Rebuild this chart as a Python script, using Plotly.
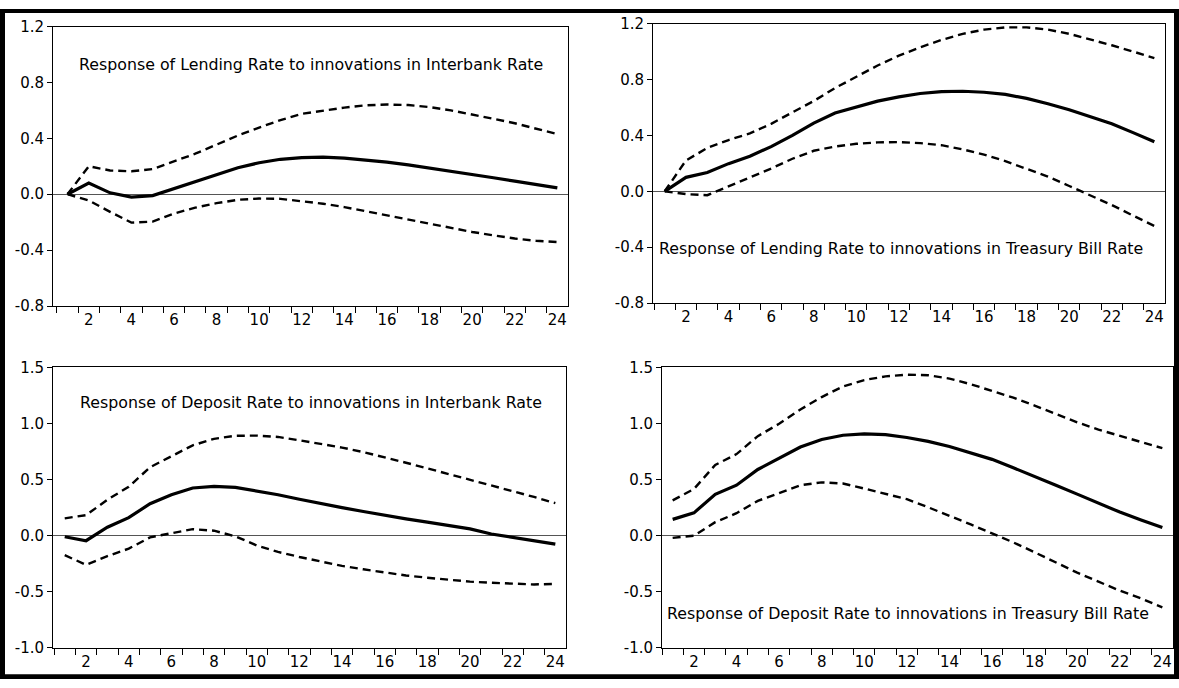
import plotly.graph_objects as go

# ---------------- data ----------------
horizon = list(range(1, 25))
x_tick_vals = [2, 4, 6, 8, 10, 12, 14, 16, 18, 20, 22, 24]
x_tick_text = ["2", "4", "6", "8", "10", "12", "14", "16", "18", "20", "22", "24"]

top_y_vals = [1.2, 0.8, 0.4, 0.0, -0.4, -0.8]
top_y_text = ["1.2", "0.8", "0.4", "0.0", "-0.4", "-0.8"]
bot_y_vals = [1.5, 1.0, 0.5, 0.0, -0.5, -1.0]
bot_y_text = ["1.5", "1.0", "0.5", "0.0", "-0.5", "-1.0"]

titles = [
    "Response of Lending Rate to innovations in Interbank Rate",
    "Response of Lending Rate to innovations in Treasury Bill Rate",
    "Response of Deposit Rate to innovations in Interbank Rate",
    "Response of Deposit Rate to innovations in Treasury Bill Rate",
]

lend_ib_resp = [0.0, 0.08, 0.01, -0.02, -0.01, 0.04, 0.094, 0.146, 0.19, 0.225, 0.25, 0.262,
                0.265, 0.258, 0.246, 0.23, 0.21, 0.188, 0.165, 0.142, 0.118, 0.094, 0.07, 0.045]
lend_ib_upper = [0.0, 0.20, 0.17, 0.164, 0.18, 0.234, 0.29, 0.355, 0.42, 0.477, 0.53, 0.575,
                 0.60, 0.62, 0.636, 0.642, 0.638, 0.624, 0.60, 0.572, 0.54, 0.508, 0.47, 0.43]
lend_ib_lower = [0.0, -0.045, -0.126, -0.203, -0.196, -0.138, -0.096, -0.064, -0.04, -0.031, -0.033, -0.05,
                 -0.068, -0.092, -0.122, -0.152, -0.185, -0.212, -0.242, -0.27, -0.294, -0.317, -0.333, -0.342]

lend_tb_resp = [0.0, 0.10, 0.135, 0.198, 0.251, 0.32, 0.40, 0.488, 0.56, 0.605, 0.645, 0.676,
                0.70, 0.713, 0.716, 0.709, 0.693, 0.665, 0.627, 0.583, 0.535, 0.484, 0.42, 0.355]
lend_tb_upper = [0.0, 0.221, 0.31, 0.367, 0.414, 0.483, 0.565, 0.646, 0.739, 0.82, 0.90, 0.971,
                 1.03, 1.083, 1.127, 1.157, 1.173, 1.173, 1.157, 1.127, 1.087, 1.045, 1.0, 0.953]
lend_tb_lower = [0.0, -0.02, -0.028, 0.035, 0.10, 0.163, 0.233, 0.29, 0.32, 0.34, 0.35, 0.352,
                 0.345, 0.33, 0.30, 0.263, 0.216, 0.163, 0.105, 0.038, -0.028, -0.098, -0.174, -0.248]

dep_ib_resp = [-0.01, -0.045, 0.075, 0.16, 0.285, 0.365, 0.425, 0.44, 0.43, 0.40, 0.365, 0.325,
               0.285, 0.25, 0.215, 0.18, 0.15, 0.12, 0.09, 0.06, 0.015, -0.015, -0.045, -0.075]
dep_ib_upper = [0.154, 0.183, 0.32, 0.436, 0.61, 0.71, 0.805, 0.863, 0.89, 0.892, 0.88, 0.85,
                0.82, 0.785, 0.745, 0.70, 0.65, 0.60, 0.55, 0.50, 0.45, 0.40, 0.345, 0.29]
dep_ib_lower = [-0.174, -0.26, -0.183, -0.116, -0.015, 0.023, 0.058, 0.044, -0.006, -0.087, -0.145, -0.19,
                -0.23, -0.27, -0.30, -0.33, -0.355, -0.375, -0.395, -0.41, -0.42, -0.43, -0.435, -0.43]

dep_tb_resp = [0.145, 0.203, 0.369, 0.45, 0.59, 0.69, 0.79, 0.857, 0.895, 0.907, 0.90, 0.875,
               0.84, 0.795, 0.74, 0.68, 0.605, 0.53, 0.45, 0.37, 0.29, 0.21, 0.14, 0.073]
dep_tb_upper = [0.314, 0.416, 0.63, 0.727, 0.887, 0.997, 1.125, 1.235, 1.33, 1.387, 1.42, 1.435,
                1.43, 1.40, 1.35, 1.29, 1.23, 1.16, 1.085, 1.01, 0.945, 0.89, 0.83, 0.78]
dep_tb_lower = [-0.02, 0.0, 0.12, 0.2, 0.31, 0.378, 0.45, 0.475, 0.465, 0.42, 0.37, 0.325,
                0.253, 0.18, 0.10, 0.02, -0.06, -0.148, -0.24, -0.33, -0.41, -0.49, -0.56, -0.64]

# ---------------- layout helpers ----------------
W, H = 1179, 688
FONT = "DejaVu Sans"


def px_x(p):
    return p / W


def px_y(p):
    return 1 - p / H


# pixel boxes: (left, right, top, bottom), x range start, y range, title position
panels = [
    dict(box=(53, 568, 18, 305), x0=0.32, yr=[-0.8, 1.2], yv=top_y_vals, yt=top_y_text,
         series=(lend_ib_resp, lend_ib_upper, lend_ib_lower), title=titles[0], tpos=(77, 57)),
    dict(box=(653, 1165, 15, 302), x0=0.45, yr=[-0.8, 1.2], yv=top_y_vals, yt=top_y_text,
         series=(lend_tb_resp, lend_tb_upper, lend_tb_lower), title=titles[1], tpos=(657, 246)),
    dict(box=(53, 566, 368, 656), x0=0.45, yr=[-1.0, 1.5], yv=bot_y_vals, yt=bot_y_text,
         series=(dep_ib_resp, dep_ib_upper, dep_ib_lower), title=titles[2], tpos=(78, 404)),
    dict(box=(662, 1173, 368, 656), x0=0.5, yr=[-1.0, 1.5], yv=bot_y_vals, yt=bot_y_text,
         series=(dep_tb_resp, dep_tb_upper, dep_tb_lower), title=titles[3], tpos=(665, 621)),
]

fig = go.Figure()
layout_axes = {}
annotations = []

for i, p in enumerate(panels, start=1):
    sfx = "" if i == 1 else str(i)
    xa, ya = "x" + sfx, "y" + sfx
    resp, upper, lower = p["series"]
    for vals, dash, width in ((upper, "8px,5px", 2.4), (lower, "8px,5px", 2.4), (resp, "solid", 3.2)):
        fig.add_trace(go.Scatter(x=horizon, y=vals, mode="lines", xaxis=xa, yaxis=ya,
                                 line=dict(color="black", width=width, dash=dash),
                                 showlegend=False, hoverinfo="skip"))
    l, r, t, b = p["box"]
    layout_axes["xaxis" + sfx] = dict(
        domain=[px_x(l), px_x(r)], anchor=ya, range=[p["x0"], 24.5],
        tickmode="array", tickvals=x_tick_vals, ticktext=x_tick_text, ticks="",
        showline=True, linecolor="black", linewidth=1, mirror=True,
        showgrid=False, zeroline=False,
        tickfont=dict(family=FONT, size=15, color="black"),
        minor=dict(tickmode="array", tickvals=[v + 0.5 for v in range(0, 24)],
                   ticks="outside", ticklen=6, tickcolor="black", tickwidth=1, showgrid=False),
        fixedrange=True,
    )
    layout_axes["yaxis" + sfx] = dict(
        domain=[px_y(b), px_y(t)], anchor=xa, range=p["yr"],
        tickmode="array", tickvals=p["yv"], ticktext=p["yt"], ticks="outside",
        ticklen=5, tickcolor="black", tickwidth=1,
        showline=True, linecolor="black", linewidth=1, mirror=True,
        showgrid=False, zeroline=True, zerolinecolor="#555555", zerolinewidth=1,
        tickfont=dict(family=FONT, size=15, color="black"),
        fixedrange=True,
    )
    tx, ty = p["tpos"]
    annotations.append(dict(text=p["title"], xref="paper", yref="paper", x=px_x(tx), y=px_y(ty),
                            xanchor="left", yanchor="middle", showarrow=False,
                            font=dict(family=FONT, size=15.8, color="black")))

# outer black frame
shapes = [
    dict(type="rect", xref="paper", yref="paper", x0=0, x1=px_x(5), y0=0, y1=1,
         fillcolor="black", line=dict(width=0)),
    dict(type="rect", xref="paper", yref="paper", x0=px_x(1174), x1=1, y0=0, y1=1,
         fillcolor="black", line=dict(width=0)),
    dict(type="rect", xref="paper", yref="paper", x0=0, x1=1, y0=px_y(4), y1=1,
         fillcolor="black", line=dict(width=0)),
    dict(type="rect", xref="paper", yref="paper", x0=0, x1=1, y0=0, y1=px_y(683),
         fillcolor="black", line=dict(width=0)),
]

fig.update_layout(
    width=W, height=H, margin=dict(l=0, r=0, t=0, b=0),
    paper_bgcolor="white", plot_bgcolor="white",
    annotations=annotations, shapes=shapes, showlegend=False,
    **layout_axes,
)

fig.write_html(
    "out.html",
    config={"displayModeBar": False, "staticPlot": True},
    post_script="document.body.style.margin='0px';document.documentElement.style.overflow='hidden';",
)
